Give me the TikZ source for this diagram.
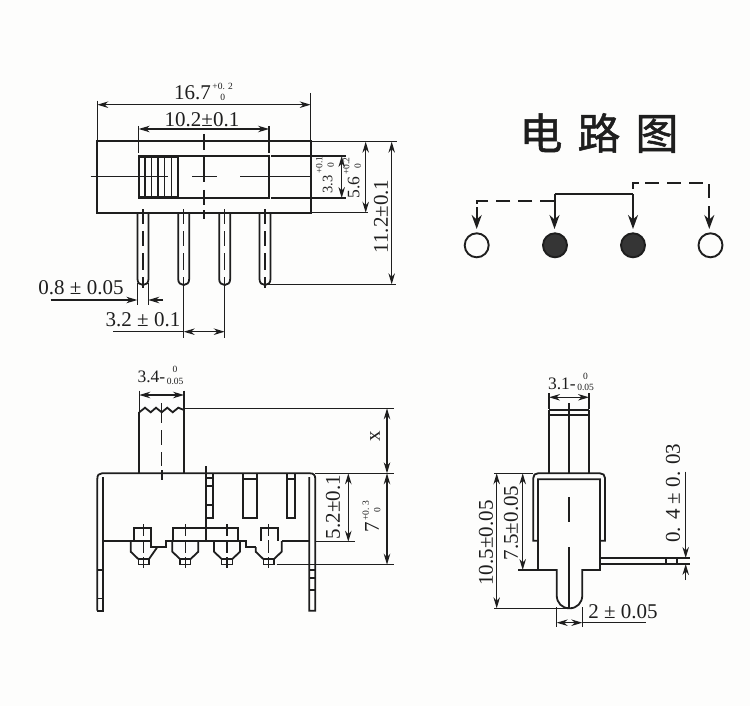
\documentclass[tikz,border=0pt]{standalone}
\usepackage{fontspec}
\setmainfont{Liberation Serif}
\newfontfamily\cjkfont[FakeBold=1.2]{Noto Sans CJK SC}
\usetikzlibrary{arrows.meta}
\definecolor{ink}{HTML}{1E1E1E}
\definecolor{paper}{HTML}{FDFDFC}
\newcommand{\tolab}[3]{#1\kern1.5pt{\fontsize{9.5}{9.5}\selectfont\raisebox{-1.5pt}{\shortstack{#2\\[2pt]#3}}}}
\tikzset{
  part/.style={draw=ink,line width=1.8pt,line join=miter},
  heavy/.style={draw=ink,line width=2.4pt},
  thin/.style={draw=ink,line width=1.1pt},
  slim/.style={draw=ink,line width=1.4pt},
  dim/.style={draw=ink,line width=1.1pt,{Stealth[length=11pt,width=6.5pt]}-{Stealth[length=11pt,width=6.5pt]}},
  lead/.style={draw=ink,line width=1.1pt,-{Stealth[length=11pt,width=6.5pt]}},
  lab/.style={text=ink,inner sep=0pt,font=\fontsize{21}{23}\selectfont},
  vlab/.style={lab,rotate=90},
  wire/.style={draw=ink,line width=2pt},
  dwire/.style={draw=ink,line width=2pt,dash pattern=on 14pt off 8pt},
  tip/.style={-{Stealth[length=14pt,width=10pt]}},
  openpt/.style={circle,draw=ink,line width=1.9pt,fill=paper,minimum size=24pt,inner sep=0pt},
  fullpt/.style={circle,draw=ink,line width=1.9pt,fill=ink!90,minimum size=24pt,inner sep=0pt},
}
\begin{document}
\begin{tikzpicture}[x=1pt,y=-1pt]
\fill[paper] (0,0) rectangle (750,706);
\useasboundingbox (0,0) rectangle (750,706);

% ---------- top view
\draw[part] (97.3,140.7) rectangle (310.7,212.7);
\draw[part] (138.7,156) rectangle (269,197.7);
\fill[ink] (138.7,155) rectangle (177.7,158);
\fill[ink] (138.7,196) rectangle (177.7,199);
\draw[part] (177.7,156) -- (177.7,197.7);
\foreach \x in {145,151.3,158,164.7,171.3} \draw[slim] (\x,156) -- (\x,197.7);
\draw[thin] (90.7,176.7) -- (167.7,176.7);
\draw[thin] (192,176.7) -- (216.7,176.7);
\draw[thin] (240,176.7) -- (311.7,176.7);
\draw[slim] (204,134) -- (204,150);
\draw[slim] (204,157) -- (204,182);
\draw[slim] (204,190) -- (204,205);
\draw[slim] (204,210) -- (204,219);
\foreach \x in {143,183.7,224.7,265} {
  \draw[part] ({\x-5.5},212.7) -- ({\x-5.5},279) .. controls ({\x-5.5},283) and ({\x-3},285) .. (\x,285) .. controls ({\x+3},285) and ({\x+5.5},283) .. ({\x+5.5},279) -- ({\x+5.5},212.7);
  \draw[thin] (\x,209) -- (\x,224);
  \draw[thin] (\x,231) -- (\x,246);
  \draw[thin] (\x,253) -- (\x,270);
  \draw[thin] (\x,277) -- (\x,288);
}
% top view dimensions
\coordinate (a1) at (97.3,104.7); \coordinate (a2) at (310.7,104.7);
\draw[thin] (97.3,100.7) -- (97.3,140); \draw[thin] (310.7,93) -- (310.7,140);
\draw[dim] (a1) -- (a2);
\node[lab,anchor=base] (t167) at (203.5,99.5) {\tolab{16.7}{+0. 2}{0}};
\coordinate (b1) at (138.7,129); \coordinate (b2) at (269,129);
\draw[thin] (138.7,126) -- (138.7,153); \draw[thin] (269,126) -- (269,153);
\draw[dim] (b1) -- (b2);
\node[lab] (t102) at (202,120) {10.2±0.1};
\draw[thin] (311.7,141.7) -- (396.7,141.7);
\draw[thin] (271,156) -- (345.7,156);
\draw[thin] (271,198) -- (345.7,198);
\draw[thin] (311.7,212.7) -- (368,212.7);
\draw[thin] (265,284.3) -- (395.7,284.3);
\draw[dim] (341.7,156) -- (341.7,198);
\draw[dim] (365.7,141.7) -- (365.7,212.7);
\draw[dim] (391.7,141.7) -- (391.7,284.3);
\node[vlab,font=\fontsize{14.5}{16}\selectfont] (t33) at (325,175) {\tolab{3.3}{+0.1}{0}};
\node[vlab,font=\fontsize{17.5}{19}\selectfont] (t56) at (352,178) {\tolab{5.6}{+0.2}{0}};
\node[vlab] (t112) at (381,216.5) {11.2±0.1};
\draw[thin] (137.3,283) -- (137.3,305); \draw[thin] (148.3,283) -- (148.3,305);
\draw[lead] (50.7,300) -- (137.3,300);
\draw[lead] (163,300) -- (148.3,300);
\node[lab] (t08) at (81,288) {0.8 ± 0.05};
\draw[thin] (183.7,287) -- (183.7,338); \draw[thin] (224.7,287) -- (224.7,338);
\draw[thin] (113.3,331.7) -- (184,331.7);
\draw[dim] (183.7,331.7) -- (224.7,331.7);
\node[lab] (t32) at (143,320) {3.2 ± 0.1};

% ---------- title and circuit
\node[text=ink,inner sep=0pt,font=\cjkfont\fontsize{43}{45}\selectfont] (title) at (599,133) {电\hspace{15pt}路\hspace{15pt}图};
\node[openpt] (p1) at (476.7,245.3) {};
\node[fullpt] (p2) at (555,245.3) {};
\node[fullpt] (p3) at (633,245.3) {};
\node[openpt] (p4) at (710.5,245.3) {};
\coordinate (j1) at (554.5,194.3);
\coordinate (j2) at (633,194.3);
\coordinate (d1) at (476.7,201);
\coordinate (d2) at (554,201);
\coordinate (d3) at (633,182.7);
\coordinate (d4) at (709.3,182.7);
\draw[wire,tip] (j1) -- (554.5,229);
\draw[wire,tip] (j2) -- (633,229);
\draw[wire] (j1) -- (j2);
\draw[dwire] (d2) -- (d1) -- (476.7,207);
\draw[wire,tip] (476.7,207) -- (476.7,229);
\draw[wire] (633,189) -- (d3) -- (639,182.7);
\draw[dwire] (645,182.7) -- (d4) -- (709.3,214);
\draw[wire,tip] (709.3,212) -- (709.3,229);

% ---------- side view
\draw[part] (139.3,473.3) -- (139.3,412);
\draw[part] (184,473.3) -- (184,412);
\draw[part] (139.3,412.3) -- (145,407.7) -- (150.7,412.3) -- (156,407.7) -- (161.7,412.3) -- (167.3,407.7) -- (172.7,412.3) -- (178.3,407.7) -- (184,410);
\draw[slim] (161.7,403) -- (161.7,423);
\draw[slim] (161.7,430) -- (161.7,445);
\draw[slim] (161.7,452) -- (161.7,466);
\draw[part] (161.7,470) -- (161.7,480);
% frame
\draw[part] (97.3,610.7) -- (97.3,479) .. controls (97.3,475) and (99,473.3) .. (102,473.3) -- (310,473.3) .. controls (313.5,473.3) and (315.3,475) .. (315.3,479) -- (315.3,610.7) -- (309.3,610.7) -- (309.3,477);
\draw[part] (103.3,477) -- (103.3,610.7) -- (97.3,610.7);
\foreach \y in {570,598.3} \draw[slim] (97.3,\y) -- (103.3,\y);
\foreach \y in {570,578,590} \draw[slim] (309.3,\y) -- (315.3,\y);
% slots
\draw[part] (206,473.3) -- (206,518.3) -- (213.3,518.3) -- (213.3,473.3);
\foreach \y in {478,486,505} \draw[part] (206,\y) -- (213.3,\y);
\draw[part] (242.7,473.3) -- (242.7,518.3) -- (257.3,518.3) -- (257.3,473.3);
\draw[part] (242.7,479.3) -- (257.3,479.3);
\draw[part] (287.3,473.3) -- (287.3,518.3) -- (295,518.3) -- (295,473.3);
\draw[part] (287.3,479.3) -- (295,479.3);
\draw[thin] (206,466) -- (206,541);
% base line
\draw[part] (103.3,541) -- (151,541) -- (151,546.7) -- (166,546.7) -- (166,541) -- (245.7,541) -- (245.7,547) -- (255.7,547);
\draw[part] (281.7,541) -- (309.3,541);
% contacts
\draw[part] (134.3,541) -- (134.3,527.7) -- (151,527.7) -- (151,541);
\draw[part] (173.3,541) -- (173.3,527.7) -- (238.3,527.7) -- (238.3,541);
\draw[part] (261,541) -- (261,527.7) -- (278.3,527.7) -- (278.3,541);
\draw[part] (130.7,541) -- (130.7,551.7) -- (138.3,559) -- (149,559) -- (156.7,548) -- (156.7,546.7);
\foreach \c in {185.3,227} \draw[part] ({\c-13},541) -- ({\c-13},551.7) -- ({\c-5.3},559) -- ({\c+5.3},559) -- ({\c+13},551.7) -- ({\c+13},541);
\draw[part] (255.7,547) -- (255.7,551.7) -- (263.3,559) -- (274,559) -- (281.7,551.7) -- (281.7,541);
\foreach \c in {143.7,185.3,227,268.7} {
  \draw[slim] ({\c-5.3},559) rectangle ({\c+5.3},564.5);
  \draw[thin] (\c,524) -- (\c,536);
  \draw[thin] (\c,540) -- (\c,553);
  \draw[thin] (\c,557) -- (\c,568);
}
% side dimensions
\draw[thin] (139.3,390.7) -- (139.3,412); \draw[thin] (184,390.7) -- (184,412);
\draw[dim] (139.3,395) -- (184,395);
\node[lab,anchor=base,font=\fontsize{17.5}{19}\selectfont] (t34) at (160.5,382.7) {\tolab{3.4-}{0}{0.05}};
\draw[thin] (184,408.3) -- (394,408.3);
\draw[thin] (315.3,473.3) -- (394,473.3);
\draw[thin] (315.3,541.7) -- (355,541.7);
\draw[thin] (276.7,564.7) -- (394,564.7);
\draw[dim] (387,408.3) -- (387,473.3);
\draw[dim] (387,473.3) -- (387,564.7);
\draw[dim] (348.3,473.3) -- (348.3,541.7);
\node[vlab] (tx) at (375,436.7) {x};
\node[vlab] (t52) at (333,507) {5.2±0.1};
\node[vlab] (t7) at (371.5,516.5) {\tolab{7}{+0. 3}{0}};

% ---------- end view
\draw[heavy] (549,410) -- (589,410);
\draw[part] (549,415) -- (589,415);
\draw[part] (549,410) -- (549,473.3);
\draw[part] (589,410) -- (589,473.3);
\draw[part] (533.3,540.7) -- (533.3,478) .. controls (533.3,475) and (535,473.3) .. (538,473.3) -- (600,473.3) .. controls (603,473.3) and (605,475) .. (605,478) -- (605,540.7) -- (600,540.7) -- (600,479.3) -- (538,479.3) -- (538,540.7) -- cycle;
\draw[part] (538,540.7) -- (538,570) -- (556.7,570) -- (556.7,595) .. controls (556.7,603) and (562,608.3) .. (569.5,608.3) .. controls (577,608.3) and (582.3,603) .. (582.3,595) -- (582.3,570) -- (600,570) -- (600,540.7);
\draw[slim] (569,403) -- (569,473.3);
\draw[slim] (569,497) -- (569,522);
\draw[slim] (569,547) -- (569,608);
\draw[part] (600,558) -- (676.7,558) -- (676.7,564) -- (600,564);
\draw[slim] (666,558) -- (666,564);
% end dimensions
\draw[thin] (549,393) -- (549,409); \draw[thin] (589,393) -- (589,409);
\draw[dim] (549,397.3) -- (589,397.3);
\node[lab,anchor=base,font=\fontsize{17.5}{19}\selectfont] (t31) at (571,389.3) {\tolab{3.1-}{0}{0.05}};
\draw[thin] (494,473.3) -- (533,473.3);
\draw[thin] (494,608.3) -- (569,608.3);
\draw[thin] (518,570) -- (538,570);
\draw[dim] (496.7,473.3) -- (496.7,608.3);
\draw[dim] (522.7,473.3) -- (522.7,570);
\node[vlab] (t105) at (486,543) {10.5±0.05};
\node[vlab] (t75) at (511,523) {7.5±0.05};
\draw[thin] (676.7,558) -- (690,558);
\draw[thin] (676.7,564) -- (690,564);
\draw[lead] (685.7,471.7) -- (685.7,558);
\draw[lead] (685.7,580) -- (685.7,564);
\node[vlab] (t04) at (673,493) {0. 4 ± 0. 03};
\draw[thin] (556.7,607) -- (556.7,626.7);
\draw[thin] (582.3,607) -- (582.3,626.7);
\draw[thin] (582.3,622.7) -- (646,622.7);
\draw[dim] (556.7,622.7) -- (582.3,622.7);
\node[lab] (t2) at (623,611.5) {2 ± 0.05};
\end{tikzpicture}
\end{document}
